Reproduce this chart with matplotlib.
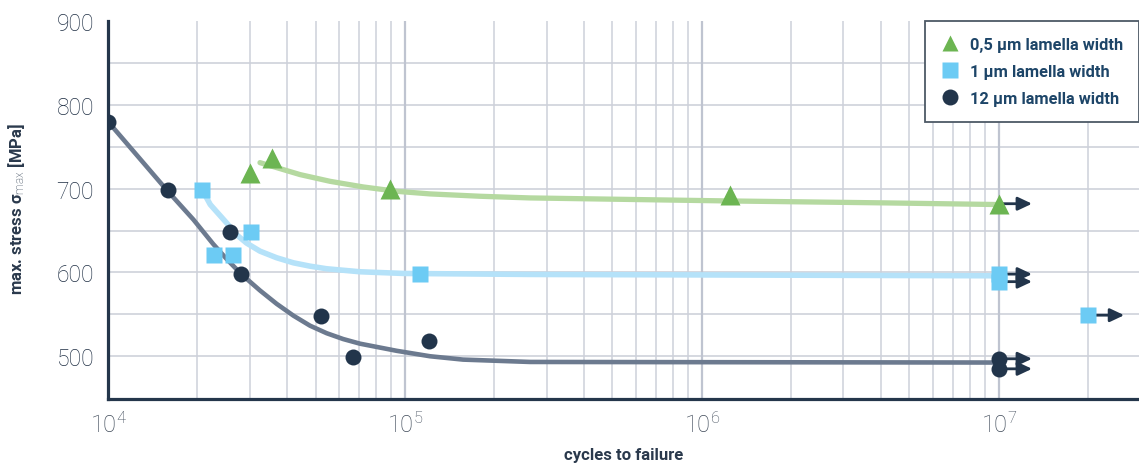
import matplotlib
matplotlib.use("Agg")
import matplotlib.pyplot as plt
from matplotlib.lines import Line2D
from matplotlib.ticker import FixedLocator, FixedFormatter, NullFormatter, LogLocator

plt.rcParams["font.family"] = ["Roboto", "DejaVu Sans"]
plt.rcParams["mathtext.fontset"] = "custom"
plt.rcParams["mathtext.rm"] = "Roboto:light"
plt.rcParams["mathtext.it"] = "Roboto:light"
plt.rcParams["mathtext.bf"] = "Roboto:bold"

# ---- measured fatigue results (cycles to failure, max. stress in MPa) ----
labels = ["0,5 µm lamella width", "1 µm lamella width", "12 µm lamella width"]

n_05 = [3.0e4, 3.57e4, 8.9e4, 1.24e6, 1.0e7]
s_05 = [719, 737, 700, 692, 682]
runout_05 = [False, False, False, False, True]

n_1 = [2.08e4, 2.28e4, 2.64e4, 3.03e4, 1.125e5, 1.0e7, 1.0e7, 2.0e7]
s_1 = [698, 621, 621, 648, 598, 598, 589, 549]
runout_1 = [False, False, False, False, False, True, True, True]

n_12 = [1.0e4, 1.59e4, 2.58e4, 2.81e4, 5.2e4, 6.7e4, 1.21e5, 1.0e7, 1.0e7]
s_12 = [780, 698, 648, 598, 548, 499, 518, 497, 485]
runout_12 = [False, False, False, False, False, False, False, True, True]

# ---- S-N trend curves ----
fit_n_05 = [3.25e4, 4.44e4, 5.6e4, 7.24e4, 9.38e4, 1.215e5, 1.79e5, 2.64e5,
            1.23e6, 4.11e6, 1.0e7]
fit_s_05 = [731, 716.7, 708.7, 702, 696.8, 693.7, 690.9, 688.9, 685.3, 683, 681]

fit_n_1 = [2.08e4, 2.21e4, 2.51e4, 2.71e4, 2.93e4, 3.25e4, 3.70e4, 4.21e4,
           4.79e4, 5.45e4, 7.06e4, 9.88e4, 2.64e5, 1.0e7]
fit_s_1 = [698, 681, 659, 645, 635, 625.4, 617.5, 611.5, 607.5, 604.4, 600.8,
           598.8, 597.6, 596]

fit_n_12 = [1.0e4, 1.58e4, 1.94e4, 2.26e4, 2.51e4, 2.81e4, 3.25e4, 3.70e4,
            4.21e4, 4.79e4, 5.45e4, 6.2e4, 7.06e4, 9.38e4, 1.215e5, 1.57e5,
            2.64e5, 1.0e7]
fit_s_12 = [780, 698, 663, 634, 616, 598, 578.5, 562.5, 548.5, 536.5, 527.5,
            520.5, 515, 506.5, 500, 496, 493.2, 492.5]

# ---- axis settings ----
x_ticks = [1e4, 1e5, 1e6, 1e7]
x_tick_labels = [r"$10^{4}$", r"$10^{5}$", r"$10^{6}$", r"$10^{7}$"]
y_ticks = [500, 600, 700, 800, 900]
y_grid = [500, 550, 600, 650, 700, 750, 800, 850]

# ---- colours ----
c_tri, c_tri_fit = "#6cb552", "#b5d9a0"
c_sq, c_sq_fit = "#6ccbf4", "#b5e2f9"
c_dot, c_dot_fit = "#22354b", "#6c7a8f"
c_arrow = "#22354b"
c_axis = "#24364b"
c_text = "#2a394c"
c_legend_text = "#1d4568"

W, H = 1139, 464
fig = plt.figure(figsize=(W / 100, H / 100), dpi=100)
ax = fig.add_axes([108 / W, 64 / H, (W - 108) / W, 378 / H])

ax.set_xscale("log")
ax.set_xlim(1e4, 10 ** 7.4725)
ax.set_ylim(449, 900)

# grid
for v in y_grid:
    ax.axhline(v, color="#d5d8e0", lw=1.4, zorder=0)
ax.xaxis.set_minor_locator(LogLocator(base=10, subs=range(2, 10)))
ax.xaxis.set_minor_formatter(NullFormatter())
ax.grid(True, which="major", axis="x", color="#bfc4d0", lw=1.6, zorder=0)
ax.grid(True, which="minor", axis="x", color="#cdd1da", lw=1.1, zorder=0)
ax.set_axisbelow(True)

ax.xaxis.set_major_locator(FixedLocator(x_ticks))
ax.xaxis.set_major_formatter(FixedFormatter(x_tick_labels))
ax.set_yticks(y_ticks)
ax.tick_params(axis="both", which="both", length=0)
ax.tick_params(axis="y", labelsize=16.5, labelcolor="#1f2f44", pad=10)
ax.tick_params(axis="x", labelsize=17, labelcolor="#3f4a59", pad=9)
for lab in ax.get_yticklabels():
    lab.set_fontweight("light")

for side in ("top", "right"):
    ax.spines[side].set_visible(False)
ax.spines["left"].set_color(c_axis)
ax.spines["left"].set_linewidth(2.3)
ax.spines["bottom"].set_color(c_axis)
ax.spines["bottom"].set_linewidth(2.3)

ax.set_xlabel("cycles to failure", fontsize=12, fontweight="bold", color=c_text)
ax.xaxis.set_label_coords(0.5, -0.128)
ax.set_ylabel(r"max. stress σ$_{\mathrm{max}}$ [MPa]", fontsize=12,
              fontweight="bold", color=c_text)
ax.yaxis.set_label_coords(-81 / 1031, 0.506)

# trend curves
ax.plot(fit_n_05, fit_s_05, color=c_tri_fit, lw=3.8, solid_capstyle="round",
        solid_joinstyle="round", zorder=2)
ax.plot(fit_n_1, fit_s_1, color=c_sq_fit, lw=4.0, solid_capstyle="round",
        solid_joinstyle="round", zorder=2)
ax.plot(fit_n_12, fit_s_12, color=c_dot_fit, lw=3.3, solid_capstyle="round",
        solid_joinstyle="round", zorder=2)


def runout_arrows(ns, ss, flags, length):
    for n, s, f in zip(ns, ss, flags):
        if f:
            ax.annotate("", xy=(n, s), xycoords="data",
                        xytext=(length, 0), textcoords="offset points",
                        arrowprops=dict(arrowstyle="<|-,head_length=0.85,head_width=0.4",
                                        mutation_scale=10, color=c_arrow, lw=2.0,
                                        shrinkA=0, shrinkB=0),
                        zorder=3)


runout_arrows(n_05, s_05, runout_05, 24)
runout_arrows(n_1, s_1, [f and n < 1.5e7 for n, f in zip(n_1, runout_1)], 24)
runout_arrows(n_1, s_1, [f and n > 1.5e7 for n, f in zip(n_1, runout_1)], 26)
runout_arrows(n_12, s_12, runout_12, 24)

# measured points
ax.plot(n_05, s_05, ls="none", marker="^", ms=15, color=c_tri, mec="none", zorder=4)
ax.plot(n_1, s_1, ls="none", marker="s", ms=11.5, color=c_sq, mec="none", zorder=4)
ax.plot(n_12, s_12, ls="none", marker="o", ms=11.5, color=c_dot, mec="none", zorder=4)

handles = [
    Line2D([], [], ls="none", marker="^", ms=11, color=c_tri, mec="none"),
    Line2D([], [], ls="none", marker="s", ms=11, color=c_sq, mec="none"),
    Line2D([], [], ls="none", marker="o", ms=11.5, color=c_dot, mec="none"),
]
leg = ax.legend(handles, labels, loc="upper left",
                bbox_to_anchor=((925 - 108) / 1031, 1.0), borderaxespad=0,
                frameon=True, fancybox=False, framealpha=1, edgecolor="#4d5966",
                prop={"weight": "bold", "size": 11.8}, labelcolor=c_legend_text,
                handlelength=1.17, handletextpad=0.63, labelspacing=0.75,
                borderpad=0.95)
leg.get_frame().set_linewidth(1.3)
leg.set_zorder(10)

fig.savefig("out.png", dpi=100)
